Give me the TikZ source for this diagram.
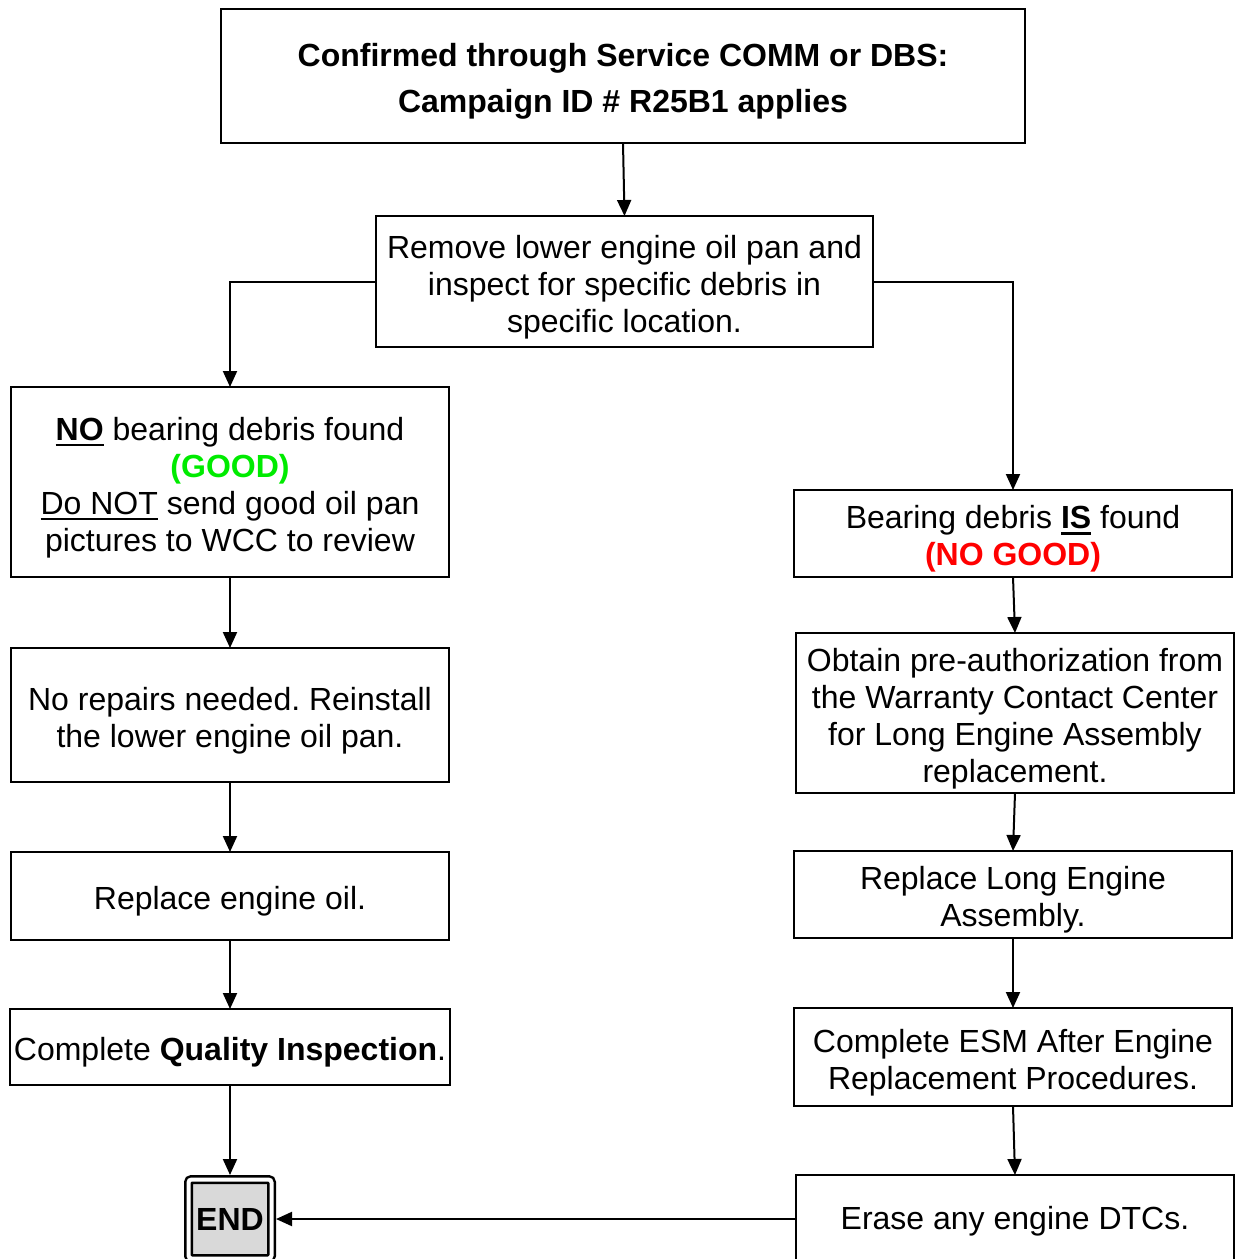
\documentclass[tikz,border=0pt]{standalone}
\usepackage{fontspec}
\setmainfont{Liberation Sans}
\usetikzlibrary{arrows.meta}
\definecolor{good}{RGB}{0,235,0}
\definecolor{nogood}{RGB}{255,0,0}
\newcommand{\ulin}[1]{\vtop{\hbox{#1}\kern3pt\hrule height 2.5pt}}
\newcommand{\topstrut}{\rule{0pt}{34pt}}
\frenchspacing
\begin{document}
\begin{tikzpicture}[x=1pt,y=-1pt,line width=2pt,font=\fontsize{32}{37}\selectfont,
		box/.style={draw,align=center,inner sep=0pt,outer sep=0pt,minimum width=438pt},
		arr/.style={-{Triangle[length=16pt,width=14pt]}}]
	\useasboundingbox (0,0) rectangle (1235,1259);
	\clip (0,0) rectangle (1235,1259);
	\path (623,76) coordinate (P0)
	(624.5,281.5) coordinate (P1)
	(230,482) coordinate (L1) (230,715) coordinate (L2) (230,896) coordinate (L3)
	(230,1047) coordinate (L4) (230,1219) coordinate (L5)
	(1013,533.5) coordinate (R1) (1015,713) coordinate (R2) (1013,894.5) coordinate (R3)
	(1013,1057) coordinate (R4) (1015,1221) coordinate (R5);
	% top of the chart
	\node[box,minimum width=804pt,minimum height=134pt,font=\fontsize{32}{46}\selectfont\bfseries]
		(confirm) at (P0) {\topstrut Confirmed through Service COMM or DBS:\\Campaign ID \# R25B1 applies};
	\node[box,minimum width=497pt,minimum height=131pt] (inspect) at (P1)
		{\topstrut Remove lower engine oil pan and\\inspect for specific debris in\\specific location.};
	% left branch
	\node[box,minimum height=190pt] (nodebris) at (L1)
		{\topstrut\ulin{\textbf{NO}} bearing debris found\\\textcolor{good}{\textbf{(GOOD)}}\\
		\ulin{Do NOT} send good oil pan\\pictures to WCC to review};
	\node[box,minimum height=134pt] (norepair) at (L2)
		{\topstrut No repairs needed. Reinstall\\the lower engine oil pan.};
	\node[box,minimum height=88pt] (oil) at (L3) {\topstrut Replace engine oil.};
	\node[box,minimum width=440pt,minimum height=76pt] (quality) at (L4)
		{\topstrut Complete \textbf{Quality Inspection}.};
	\node[draw,double,double distance=4pt,line width=2.5pt,rounded corners=3pt,fill=gray!30,
		minimum width=83pt,minimum height=79pt,inner sep=0pt,outer sep=4.5pt,font=\fontsize{32}{37}\selectfont\bfseries]
		(finish) at (L5) {END};
	% right branch
	\node[box,minimum height=87pt] (debris) at (R1)
		{\topstrut Bearing debris \ulin{\textbf{IS}} found\\\textcolor{nogood}{\textbf{(NO GOOD)}}};
	\node[box,minimum height=160pt] (preauth) at (R2)
		{\topstrut Obtain pre-authorization from\\the Warranty Contact Center\\for Long Engine Assembly\\replacement.};
	\node[box,minimum height=87pt] (engine) at (R3) {\topstrut Replace Long Engine\\Assembly.};
	\node[box,minimum height=98pt] (esm) at (R4)
		{\topstrut Complete ESM After Engine\\Replacement Procedures.};
	\node[box,minimum height=92pt] (erase) at (R5) {Erase any engine DTCs.};
	% connectors
	\draw[arr] (confirm.south) -- (inspect.north);
	\draw[arr] (inspect.west) -| (nodebris.north);
	\draw[arr] (inspect.east) -| (debris.north);
	\draw[arr] (nodebris.south) -- (norepair.north);
	\draw[arr] (norepair.south) -- (oil.north);
	\draw[arr] (oil.south) -- (quality.north);
	\draw[arr] (quality.south) -- (finish.north);
	\draw[arr] (debris.south) -- (preauth.north);
	\draw[arr] (preauth.south) -- (engine.north);
	\draw[arr] (engine.south) -- (esm.north);
	\draw[arr] (esm.south) -- (erase.north);
	\draw[arr] (erase.west |- finish.east) -- (finish.east);
\end{tikzpicture}
\end{document}
